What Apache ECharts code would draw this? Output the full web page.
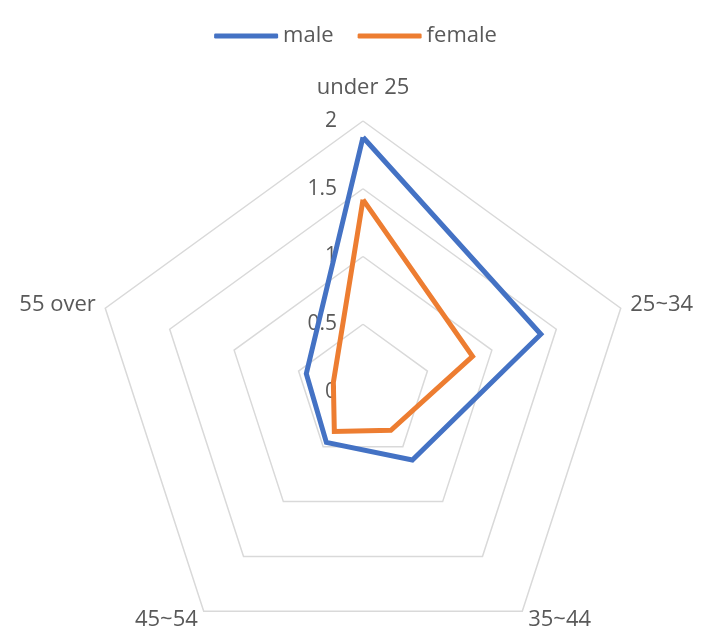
<!DOCTYPE html>
<html>
<head>
<meta charset="utf-8">
<script src="https://cdn.jsdelivr.net/npm/echarts@6/dist/echarts.min.js"></script>
<style>
  html, body { margin: 0; padding: 0; background: #fff; }
  #chart { width: 711px; height: 640px; }
</style>
</head>
<body>
<div id="chart"></div>
<script>
// indicators listed counter-clockwise from the top (echarts radar order)
const categories = ['under 25', '55 over', '45~54', '35~44', '25~34']
const maleValues = [1.88, 0.44, 0.46, 0.62, 1.38]
const femaleValues = [1.42, 0.23, 0.36, 0.35, 0.85]
const axisMax = 2

const chart = echarts.init(document.getElementById('chart'))
const textColor = '#595959'

const option = {
  animation: false,
  legend: {
    top: 20,
    left: 'center',
    itemWidth: 64,
    itemHeight: 5,
    itemGap: 24,
    icon: 'roundRect',
    textStyle: { color: textColor, fontSize: 22, fontFamily: 'Open Sans' },
    data: ['male', 'female']
  },
  radar: {
    center: [363, 392],
    radius: 271,
    shape: 'polygon',
    splitNumber: 4,
    axisName: { color: textColor, fontSize: 22, fontFamily: 'Open Sans' },
    nameGap: 10,
    axisLine: { show: false },
    axisTick: { show: false },
    splitArea: { show: false },
    splitLine: { lineStyle: { color: '#d9d9d9', width: 1.5 } },
    axisLabel: {
      show: true,
      color: textColor,
      fontSize: 21,
      fontFamily: 'Open Sans',
      margin: 26
    },
    indicator: categories.map((name, i) => ({
      name: name,
      min: 0,
      max: axisMax,
      axisLabel: { show: i === 0 },
      nameTextStyle: i === 0 ? { padding: [0, 0, 12, 0] } : {}
    }))
  },
  series: [
    {
      type: 'radar',
      symbol: 'none',
      data: [
        {
          name: 'male',
          value: maleValues,
          itemStyle: { color: '#4472c4' },
          lineStyle: { color: '#4472c4', width: 5, join: 'miter' }
        },
        {
          name: 'female',
          value: femaleValues,
          itemStyle: { color: '#ed7d31' },
          lineStyle: { color: '#ed7d31', width: 5, join: 'miter' }
        }
      ]
    }
  ]
}
chart.setOption(option)
</script>
</body>
</html>
